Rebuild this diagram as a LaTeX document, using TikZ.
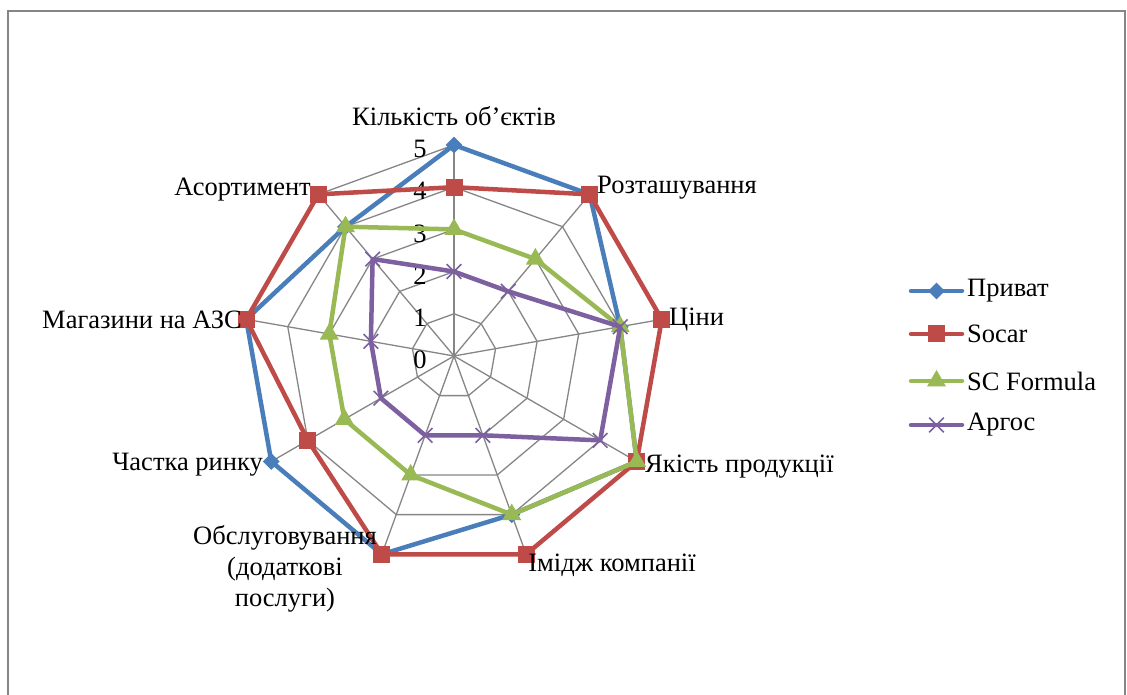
\documentclass[tikz,border=0pt]{standalone}
\usepackage{fontspec}
\setmainfont{Liberation Serif}
\usetikzlibrary{shapes.geometric,shapes.misc}
\definecolor{cblue}{HTML}{4A7EBB}
\definecolor{cred}{HTML}{BE4B48}
\definecolor{cgreen}{HTML}{98B954}
\definecolor{cpurple}{HTML}{7D60A0}
\definecolor{cgrid}{HTML}{868686}
\tikzset{
  gridline/.style={cgrid, line width=1.3},
  serline/.style={line width=4.5, line join=round},
  mkdiamond/.style={diamond, fill=cblue, minimum size=17, inner sep=0},
  mksquare/.style={rectangle, fill=cred, minimum size=17, inner sep=0},
  mktriangle/.style={regular polygon, regular polygon sides=3, fill=cgreen, minimum size=22, inner sep=0},
  mkcross/.style={cross out, draw=cpurple, line width=1.6, minimum size=13, inner sep=0},
  lbl/.style={inner sep=0}
}
\begin{document}
\begin{tikzpicture}[x=1pt,y=1pt, font=\fontsize{26.5}{31}\selectfont]
\useasboundingbox (0,0) rectangle (1127,695);
\fill[white] (0,0) rectangle (1127,695);
\draw[cgrid, line width=2.2] (8,-10) |- (1125,684) -- (1125,-10);
\begin{scope}[shift={(454,339)}]
  \coordinate (O) at (0,0);
  % grid polygons
  \foreach \k in {1,...,5}
    \draw[gridline] (90:\k*42.2) \foreach \i in {1,...,8}{ -- (90-\i*40:\k*42.2)} -- cycle;
  \foreach \i in {0,...,8}{
    \coordinate (A\i) at (90-\i*40:211);
    \draw[gridline] (O) -- (A\i);
  }
  % tick labels
  \foreach \k in {0,...,5}
    \node[lbl] (t\k) at (-34,\k*42.2-4) {\k};
  % series Pryvat
  \foreach \v [count=\i from 0] in {5,5,4,5,4,5,5,5,4}
    \coordinate (P\i) at (90-\i*40:\v*42.2);
  \draw[cblue, serline] (P0) -- (P1) -- (P2) -- (P3) -- (P4) -- (P5) -- (P6) -- (P7) -- (P8) -- cycle;
  \foreach \i in {0,...,8} \node[mkdiamond] (PM\i) at (P\i) {};
  % Socar
  \foreach \v [count=\i from 0] in {4,5,5,5,5,5,4,5,5}
    \coordinate (S\i) at (90-\i*40:\v*42.2);
  \draw[cred, serline] (S0) -- (S1) -- (S2) -- (S3) -- (S4) -- (S5) -- (S6) -- (S7) -- (S8) -- cycle;
  \foreach \i in {0,...,8} \node[mksquare] (SM\i) at (S\i) {};
  % SC Formula
  \foreach \v [count=\i from 0] in {3,3,4,5,4,3,3,3,4}
    \coordinate (F\i) at (90-\i*40:\v*42.2);
  \draw[cgreen, serline] (F0) -- (F1) -- (F2) -- (F3) -- (F4) -- (F5) -- (F6) -- (F7) -- (F8) -- cycle;
  \foreach \i in {0,...,8} \node[mktriangle] (FM\i) at (F\i) {};
  % Argos
  \foreach \v [count=\i from 0] in {2,2,4,4,2,2,2,2,3}
    \coordinate (G\i) at (90-\i*40:\v*42.2);
  \draw[cpurple, serline] (G0) -- (G1) -- (G2) -- (G3) -- (G4) -- (G5) -- (G6) -- (G7) -- (G8) -- cycle;
  \foreach \i in {0,...,8} \node[mkcross] (GM\i) at (G\i) {};
\end{scope}
% axis labels
\node[lbl] (L0) at (454,579) {Кількість об’єктів};
\node[lbl, anchor=west] (L1) at (597,507) {Розташування};
\node[lbl, anchor=west] (L2) at (669,375) {Ціни};
\node[lbl, anchor=west] (L3) at (645,228) {Якість продукції};
\node[lbl, align=center] (L4) at (612,130) {Імідж компанії};
\node[lbl, align=center] (L5) at (285,126) {Обслуговування\\(додаткові\\послуги)};
\node[lbl, anchor=east] (L6) at (263,230) {Частка ринку};
\node[lbl, anchor=east] (L7) at (242,375) {Магазини на АЗС};
\node[lbl, anchor=east] (L8) at (311,505) {Асортимент};
% legend
\foreach \y/\c/\m/\t [count=\j] in {404/cblue/mkdiamond/Приват, 361/cred/mksquare/Socar, 314/cgreen/mktriangle/SC Formula, 270/cpurple/mkcross/Аргос}{
  \coordinate (la\j) at (911,\y);
  \coordinate (lb\j) at (962,\y);
  \draw[\c, serline, line cap=round] (la\j) -- (lb\j);
  \node[\m] (lm\j) at (936.5,\y) {};
  \node[lbl, anchor=west] (lt\j) at (967,\y) {\t};
}
\end{tikzpicture}
\end{document}
